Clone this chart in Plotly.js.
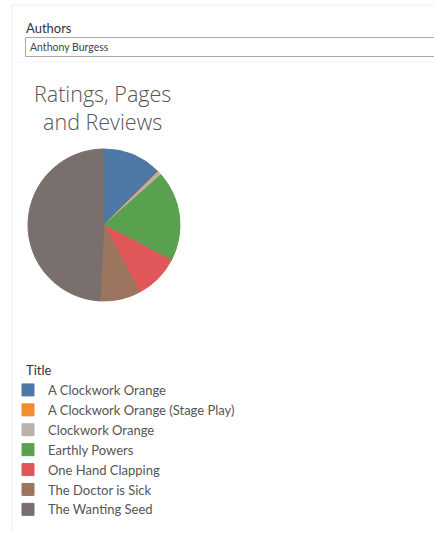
<!DOCTYPE html>
<html>
<head>
<meta charset="utf-8">
<script src="https://cdn.plot.ly/plotly-3.0.1.min.js"></script>
<style>
html,body{margin:0;padding:0;background:#fff;}
#chart{width:434px;height:533px;}
</style>
</head>
<body>
<div id="chart"></div>
<script>
// Data (share of the whole, %)
const titles = [
  "A Clockwork Orange",
  "A Clockwork Orange (Stage Play)",
  "Clockwork Orange",
  "Earthly Powers",
  "One Hand Clapping",
  "The Doctor is Sick",
  "The Wanting Seed"
];
const values = [12.6, 0.1, 0.8, 19.2, 9.5, 8.7, 49.2];
const colors = ["#4e79a7", "#f28e2b", "#bab0ac", "#59a14f", "#e15759", "#9c755f", "#79706e"];
const filterLabel = "Authors";
const filterValue = "Anthony Burgess";
const chartTitle = "Ratings, Pages<br>and Reviews";
const legendTitle = "Title";

const W = 434, H = 533;
const px = x => x / W;
const py = y => 1 - y / H;
const FONT = "Lato, 'Open Sans', sans-serif";

const trace = {
  type: "pie",
  labels: titles,
  values: values,
  sort: false,
  direction: "clockwise",
  rotation: 0,
  textinfo: "none",
  hoverinfo: "label+value",
  marker: {colors: colors, line: {color: colors, width: 1}},
  domain: {x: [px(28), px(180)], y: [py(301), py(149)]},
  showlegend: true
};

const layout = {
  width: W, height: H,
  margin: {l: 0, r: 0, t: 0, b: 0},
  paper_bgcolor: "#ffffff",
  font: {family: FONT, color: "#555555"},
  showlegend: true,
  legend: {
    x: px(8), y: py(375), xanchor: "left", yanchor: "top",
    font: {family: FONT, size: 13, color: "#555555"},
    bgcolor: "rgba(0,0,0,0)",
    traceorder: "normal"
  },
  shapes: [
    {type: "line", xref: "paper", yref: "paper", x0: px(12), x1: px(434), y0: py(5), y1: py(5), line: {color: "#eeeeee", width: 1}},
    {type: "line", xref: "paper", yref: "paper", x0: px(12), x1: px(12), y0: py(5), y1: py(533), line: {color: "#eeeeee", width: 1}},
    {type: "line", xref: "paper", yref: "paper", x0: px(12), x1: px(434), y0: py(62), y1: py(62), line: {color: "#f6f6f6", width: 1}},
    {type: "rect", xref: "paper", yref: "paper", x0: px(25.5), x1: px(440), y0: py(56.5), y1: py(37.5), line: {color: "#a9a9a9", width: 1}, fillcolor: "#ffffff"}
  ],
  annotations: [
    {xref: "paper", yref: "paper", x: px(24), y: py(28), xanchor: "left", yanchor: "middle", showarrow: false,
     text: filterLabel, font: {family: FONT, size: 13, color: "#333333"}},
    {xref: "paper", yref: "paper", x: px(28), y: py(47), xanchor: "left", yanchor: "middle", showarrow: false,
     text: filterValue, font: {family: FONT, size: 10.5, color: "#444444"}},
    {xref: "paper", yref: "paper", x: px(102), y: py(108), xanchor: "center", yanchor: "middle", showarrow: false,
     text: chartTitle, align: "center", font: {family: "'Open Sans', sans-serif", size: 21.5, color: "#555555", weight: 300}},
    {xref: "paper", yref: "paper", x: px(24), y: py(370), xanchor: "left", yanchor: "middle", showarrow: false,
     text: legendTitle, font: {family: FONT, size: 13, color: "#333333"}}
  ]
};

Plotly.newPlot("chart", [trace], layout, {displayModeBar: false, staticPlot: true});
</script>
</body>
</html>
